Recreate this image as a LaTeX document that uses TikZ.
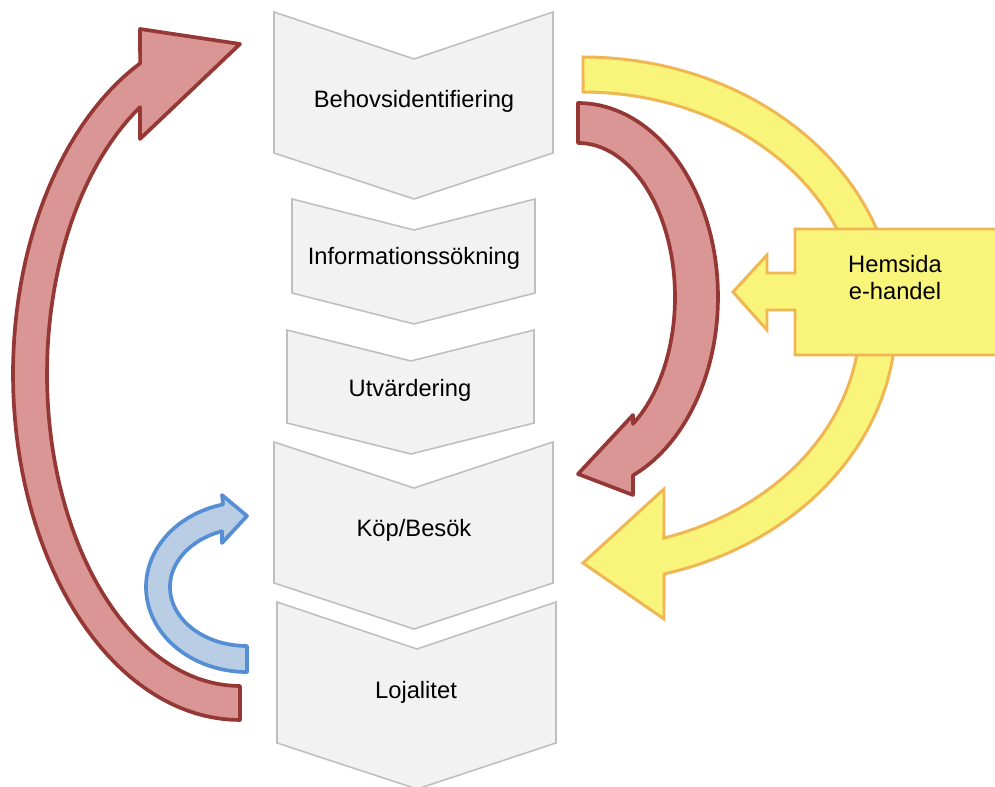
\documentclass[tikz,border=0pt]{standalone}
\usepackage{fontspec}
\setmainfont{Liberation Sans}
\definecolor{stagefill}{HTML}{F2F2F2}
\definecolor{stageline}{HTML}{BFBFBF}
\definecolor{redfill}{HTML}{D99694}
\definecolor{redline}{HTML}{953735}
\definecolor{yelfill}{HTML}{F9F57A}
\definecolor{yelline}{HTML}{F0B654}
\definecolor{bluefill}{HTML}{B9CDE5}
\definecolor{blueline}{HTML}{558ED5}
\begin{document}
\begin{tikzpicture}[x=0.02cm, y=-0.02cm,
  stage/.style={fill=stagefill, draw=stageline, line width=0.9pt, line join=miter},
  redarrow/.style={fill=redfill, draw=redline, line width=2.1pt, line join=round},
  yelarrow/.style={fill=yelfill, draw=yelline, line width=1.7pt, line join=miter},
  bluearrow/.style={fill=bluefill, draw=blueline, line width=2.1pt, line join=round},
  lbl/.style={font=\fontsize{13.5}{15}\selectfont, anchor=base, inner sep=0pt},
  arc/.style={samples=70, variable=\t}]
\clip (0,0) rectangle (995,787);
\fill[white] (0,0) rectangle (995,787);

% process stages (chevrons)
\draw[stage] (274,12) -- (414,59) -- (553,12) -- (553,153) -- (414,199) -- (274,153) -- cycle;
\draw[stage] (292,199) -- (414,230) -- (535,199) -- (535,293) -- (414,324) -- (292,293) -- cycle;
\draw[stage] (287,330) -- (411,361) -- (534,330) -- (534,423) -- (411,454) -- (287,423) -- cycle;
\draw[stage] (274,442) -- (414,488) -- (553,442) -- (553,583) -- (414,629) -- (274,583) -- cycle;
\draw[stage] (277,602) -- (417,649) -- (556,602) -- (556,743) -- (417,789) -- (277,743) -- cycle;

\node[lbl] (s1) at (414,108) {Behovsidentifiering};
\node[lbl] (s2) at (414,265) {Informationssökning};
\node[lbl] (s3) at (410,397) {Utvärdering};
\node[lbl] (s4) at (414,537) {Köp/Besök};
\node[lbl] (s5) at (416,698) {Lojalitet};

% large loop on the left: Lojalitet back to Behovsidentifiering
\draw[redarrow] plot[arc, domain=90:243.9] ({240+227*cos(\t)},{374+346*sin(\t)})
  -- (140,29) -- (240,44) -- (140,139)
  -- plot[arc, domain=238.8:90] ({240+193*cos(\t)},{374+312*sin(\t)}) -- cycle;

% right loop: Behovsidentifiering down to Köp/Besök
\draw[redarrow] plot[arc, domain=-90:66.9] ({578+140*cos(\t)},{297+194*sin(\t)})
  -- (633,495) -- (578,474) -- (633,415)
  -- plot[arc, domain=55.5:-90] ({578+97*cos(\t)},{297+154*sin(\t)}) -- cycle;

% outer yellow loop
\draw[yelarrow] plot[arc, domain=-90:75] ({583+313*cos(\t)},{320+263*sin(\t)})
  -- (664,619) -- (583,563) -- (664,489)
  -- plot[arc, domain=73:-90] ({583+277*cos(\t)},{320+228*sin(\t)}) -- cycle;

% small blue loop: Lojalitet back to Köp/Besök
\draw[bluearrow] plot[arc, domain=90:256.3] ({247+101*cos(\t)},{587+85*sin(\t)})
  -- (222,495) -- (247,516) -- (222,543)
  -- plot[arc, domain=251:90] ({247+77*cos(\t)},{587+59*sin(\t)}) -- cycle;

% callout box with left-pointing arrow
\draw[yelarrow] (1000,229) -- (795,229) -- (795,273) -- (767,273) -- (767,255)
  -- (733,292) -- (767,330) -- (767,310) -- (795,310) -- (795,355) -- (1000,355) -- cycle;
\node[lbl] (h1) at (895,273) {Hemsida};
\node[lbl] (h2) at (895,300) {e-handel};
\end{tikzpicture}
\end{document}
